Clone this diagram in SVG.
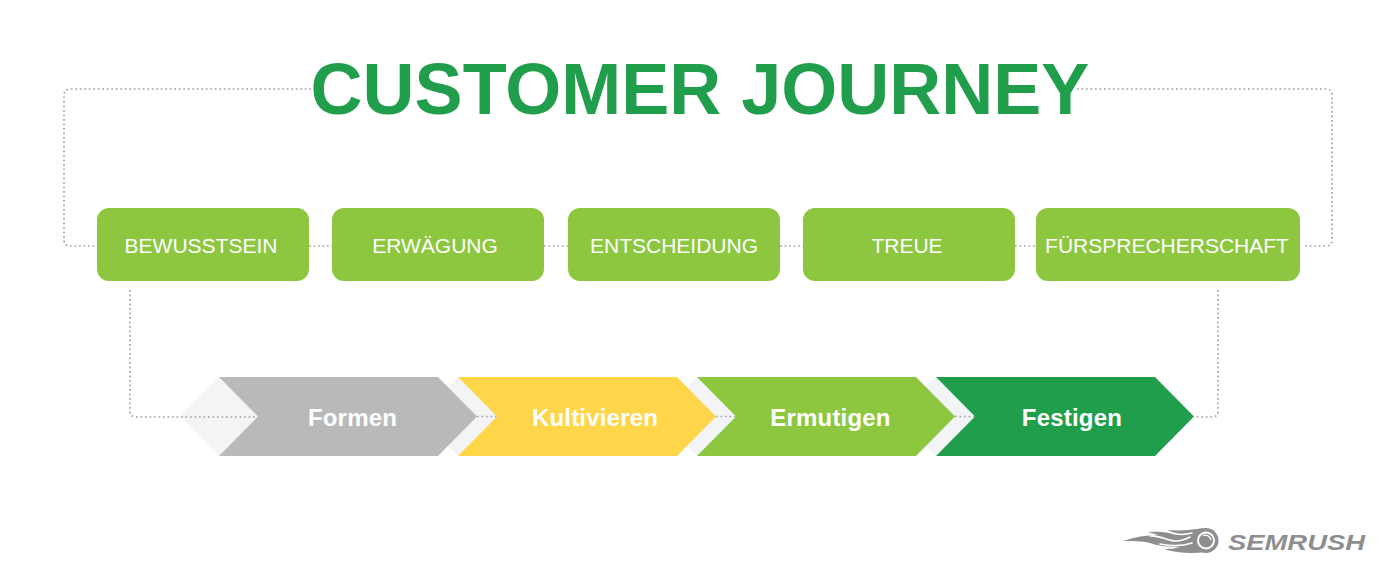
<svg xmlns="http://www.w3.org/2000/svg" width="1397" height="585" viewBox="0 0 1397 585">
<style>
.box{fill:#8DC73F}
.lbl{font-family:"Liberation Sans",Arial,sans-serif;font-size:21px;fill:#fff;text-anchor:middle}
.step{font-family:"Liberation Sans",Arial,sans-serif;font-size:24px;font-weight:700;fill:#fff;text-anchor:middle;letter-spacing:.2px}
.dot{fill:none;stroke:#A3A3A6;stroke-width:1.7;stroke-dasharray:1.7 2.8}
.dia{fill:#F3F4F6}
.slit{fill:none;stroke:#fff;stroke-width:1.6;stroke-linecap:round}
</style>
<rect width="1397" height="585" fill="#fff"/>
<g id="backdrops">
<polygon class="dia" points="180,416.5 219,377 258,416.5 219,456"/>
<polygon class="dia" points="419,416.5 458,377 497,416.5 458,456"/>
<polygon class="dia" points="658,416.5 697,377 736,416.5 697,456"/>
<polygon class="dia" points="897,416.5 936,377 975,416.5 936,456"/>
</g>
<g id="connectors">
<path class="dot" d="M311 89H70Q64 89 64 95V240Q64 246 70 246H97"/>
<path class="dot" d="M1077 89H1326Q1332 89 1332 95V240Q1332 246 1326 246H1303"/>
<path class="dot" d="M309 246H332M544 246H568M780 246H803M1015 246H1036"/>
<path class="dot" d="M130 290V411Q130 417 136 417H258"/>
<path class="dot" d="M1218 290V411Q1218 417 1212 417H1194"/>
<path class="dot" d="M477 416.5H497M716 416.5H736M955 416.5H975"/>
</g>
<g id="title"><text x="700" y="114" font-family="'Liberation Sans',Arial,sans-serif" font-size="72" font-weight="700" fill="#209E4C" text-anchor="middle">CUSTOMER JOURNEY</text></g>
<g id="node-bewusstsein"><rect class="box" x="97" y="208" width="212" height="73" rx="12"/><text class="lbl" x="201" y="252.500">BEWUSSTSEIN</text></g>
<g id="node-erwaegung"><rect class="box" x="332" y="208" width="212" height="73" rx="12"/><text class="lbl" x="435" y="252.500">ERWÄGUNG</text></g>
<g id="node-entscheidung"><rect class="box" x="568" y="208" width="212" height="73" rx="12"/><text class="lbl" x="674" y="252.500">ENTSCHEIDUNG</text></g>
<g id="node-treue"><rect class="box" x="803" y="208" width="212" height="73" rx="12"/><text class="lbl" x="907" y="252.500">TREUE</text></g>
<g id="node-fuersprecherschaft"><rect class="box" x="1036" y="208" width="264" height="73" rx="12"/><text class="lbl" x="1167" y="252.500">FÜRSPRECHERSCHAFT</text></g>
<g id="step-formen"><polygon fill="#B9B9B9" points="219,377 438,377 477,416.5 438,456 219,456 258,416.5"/><path class="dot" opacity=".2" d="M457 416.500H475"/><text class="step" x="352.500" y="425.500">Formen</text></g>
<g id="step-kultivieren"><polygon fill="#FFD54A" points="458,377 677,377 716,416.5 677,456 458,456 497,416.5"/><text class="step" x="595" y="425.500">Kultivieren</text></g>
<g id="step-ermutigen"><polygon fill="#8DC73F" points="697,377 916,377 955,416.5 916,456 697,456 736,416.5"/><text class="step" x="830.500" y="425.500">Ermutigen</text></g>
<g id="step-festigen"><polygon fill="#209E4C" points="936,377 1155,377 1194,416.5 1155,456 936,456 975,416.5"/><text class="step" x="1072" y="425.500">Festigen</text></g>
<g id="logo" fill="#8E8E90">
<path d="M1123 541C1134 537 1146 535 1158 535L1148 532C1160 531 1171 533 1177 535C1173 532 1170 531 1167 530C1180 531 1192 530 1203 528L1205 552C1192 554 1176 553 1164 549C1172 549 1176 548 1180 547C1168 547 1158 546 1150 543C1142 541 1132 541 1123 541Z"/>
<path class="slit" d="M1150 536C1160 535 1167 541 1176 541C1181 541 1186 539 1190 537M1160 544C1170 546 1180 547 1192 543M1172 533C1178 535 1184 535 1192 533"/>
<circle cx="1206" cy="540.500" r="12.500"/>
<circle cx="1206" cy="540.500" r="9" fill="#fff"/>
<circle cx="1206" cy="540.500" r="7"/>
<path d="M1203 535.500A6 6 0 0 1 1211 540" fill="none" stroke="#fff" stroke-width="1.400"/>
<text x="1228" y="549.500" font-family="'Liberation Sans',Arial,sans-serif" font-size="22" font-weight="700" font-style="italic" textLength="137" lengthAdjust="spacingAndGlyphs">SEMRUSH</text>
</g>
</svg>
